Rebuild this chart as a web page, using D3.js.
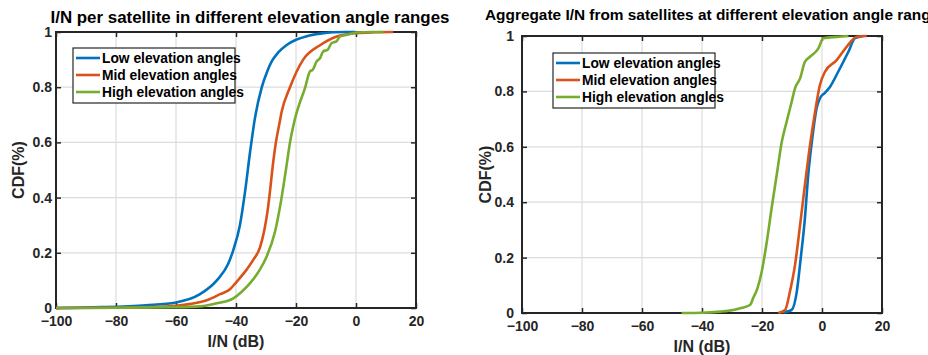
<!DOCTYPE html>
<html>
<head>
<meta charset="utf-8">
<script src="https://cdn.jsdelivr.net/npm/d3@7"></script>
<style>
  html, body { margin: 0; padding: 0; background: #fff; }
  svg { display: block; font-family: "Liberation Sans", Arial, sans-serif; font-weight: bold; }
</style>
</head>
<body>
<svg id="fig" width="928" height="355"></svg>
<script>
// ---- Shared axis settings ----
const xTicks = [-100, -80, -60, -40, -20, 0, 20];
const yTicks = [0, 0.2, 0.4, 0.6, 0.8, 1];
const seriesNames = ["Low elevation angles", "Mid elevation angles", "High elevation angles"];
const seriesColors = ["#0072BD", "#D95319", "#77AC30"];

// ---- Panel 1: I/N per satellite (CDF) ----
const perSatLowX  = [-100, -85, -70, -60, -52, -46.4, -42.6, -40.9, -38.7, -37, -35.3, -33.7, -31.4, -29.5, -28, -26, -23.1, -20, -16.4, -12, -7.6, -3, 0];
const perSatLowY  = [0, 0.003, 0.01, 0.02, 0.05, 0.10, 0.16, 0.21, 0.30, 0.42, 0.566, 0.687, 0.80, 0.86, 0.895, 0.925, 0.953, 0.972, 0.985, 0.994, 0.999, 1, 1];
const perSatMidX  = [-100, -80, -70, -60, -55, -50, -45.3, -42, -39.8, -36.4, -34.2, -32, -30.5, -29.5, -28.6, -27.8, -26.7, -25.5, -24.8, -22, -17.6, -12, -6.4, 0.2, 6, 12.4];
const perSatMidY  = [0, 0.001, 0.003, 0.008, 0.015, 0.027, 0.05, 0.068, 0.095, 0.14, 0.175, 0.22, 0.285, 0.35, 0.43, 0.51, 0.60, 0.67, 0.71, 0.80, 0.90, 0.952, 0.984, 0.996, 0.999, 1];
const perSatHighX = [-100, -80, -60, -52, -46, -40.9, -38, -35.3, -32, -29.8, -27, -24.8, -23.1, -22, -21, -20, -19, -17, -15.3, -14.5, -13.1, -12, -10.9, -9.5, -8.1, -6.5, -5.3, -3, 0.2, 5, 9.1];
const perSatHighY = [0, 0.001, 0.003, 0.006, 0.018, 0.035, 0.06, 0.09, 0.14, 0.186, 0.276, 0.40, 0.52, 0.60, 0.655, 0.70, 0.735, 0.797, 0.858, 0.862, 0.894, 0.905, 0.93, 0.935, 0.96, 0.966, 0.984, 0.99, 0.998, 1, 1];

// ---- Panel 2: aggregate I/N (CDF) ----
const aggLowX  = [-12.9, -12.3, -10.1, -8.4, -7.1, -5.7, -4.6, -3.1, -1.8, -0.7, 1, 2.7, 5.4, 8.8, 11, 13.8];
const aggLowY  = [0, 0.003, 0.011, 0.077, 0.197, 0.342, 0.498, 0.643, 0.739, 0.775, 0.795, 0.817, 0.871, 0.943, 0.992, 1];
const aggMidX  = [-14.6, -12.3, -10.7, -9, -7.3, -5.7, -4, -2.3, -0.7, 1, 4.9, 8.2, 11.6, 14.9];
const aggMidY  = [0, 0.011, 0.077, 0.173, 0.318, 0.462, 0.606, 0.727, 0.823, 0.871, 0.913, 0.961, 0.997, 1];
const aggHighX = [-46.8, -40, -34, -29.6, -27.3, -24, -22.9, -21.5, -20.1, -18.4, -16.8, -15.1, -13.4, -11.8, -10.1, -9, -7.3, -5.7, -4, -1.2, 0.4, 5, 8.8];
const aggHighY = [0, 0.001, 0.005, 0.011, 0.017, 0.029, 0.055, 0.09, 0.149, 0.257, 0.378, 0.498, 0.618, 0.69, 0.763, 0.811, 0.847, 0.907, 0.925, 0.955, 0.992, 0.997, 1];

const svg = d3.select("#fig");
const zip = (xs, ys) => xs.map((x, i) => [x, ys[i]]);
const yFmt = d => (d === 0 || d === 1) ? String(d) : d.toFixed(1);

function drawPanel(p) {
  const x = d3.scaleLinear().domain([-100, 20]).range([p.left, p.right]);
  const y = d3.scaleLinear().domain([0, 1]).range([p.bottom, p.top]);
  const g = svg.append("g");

  // grid
  g.append("g").selectAll("line.gx").data(xTicks.slice(1, -1)).join("line")
    .attr("x1", d => x(d)).attr("x2", d => x(d))
    .attr("y1", p.top).attr("y2", p.bottom)
    .attr("stroke", "#dcdcdc").attr("stroke-width", 1.2);
  g.append("g").selectAll("line.gy").data(yTicks.slice(1, -1)).join("line")
    .attr("y1", d => y(d)).attr("y2", d => y(d))
    .attr("x1", p.left).attr("x2", p.right)
    .attr("stroke", "#dcdcdc").attr("stroke-width", 1.2);

  // axes with inward ticks
  const axStyle = sel => {
    sel.select(".domain").remove();
    sel.selectAll(".tick line").attr("stroke", "#262626").attr("stroke-width", 1.5);
    sel.selectAll(".tick text").attr("fill", "#262626")
      .style("font-size", "14px").style("font-weight", "bold")
      .style("font-family", "'Liberation Sans', Arial, sans-serif");
  };
  g.append("g").attr("transform", `translate(0,${p.bottom})`)
    .call(d3.axisBottom(x).tickValues(xTicks).tickSize(-5).tickPadding(p.xPad)).call(axStyle);
  g.append("g").attr("transform", `translate(0,${p.top})`)
    .call(d3.axisTop(x).tickValues(xTicks).tickSize(-5).tickFormat("")).call(axStyle);
  g.append("g").attr("transform", `translate(${p.left},0)`)
    .call(d3.axisLeft(y).tickValues(yTicks).tickSize(-5).tickPadding(p.yPad).tickFormat(yFmt)).call(axStyle);
  g.append("g").attr("transform", `translate(${p.right},0)`)
    .call(d3.axisRight(y).tickValues(yTicks).tickSize(-5).tickFormat("")).call(axStyle);

  // box
  g.append("rect").attr("x", p.left).attr("y", p.top)
    .attr("width", p.right - p.left).attr("height", p.bottom - p.top)
    .attr("fill", "none").attr("stroke", "#262626").attr("stroke-width", 2);

  // curves
  const line = d3.line().x(d => x(d[0])).y(d => y(d[1])).curve(d3.curveMonotoneX);
  p.series.forEach((s, i) => {
    g.append("path").datum(s).attr("d", line)
      .attr("fill", "none").attr("stroke", seriesColors[i])
      .attr("stroke-width", 2.6).attr("stroke-linejoin", "round");
  });

  // labels
  g.append("text").attr("x", (p.left + p.right) / 2).attr("y", p.bottom + p.xLabelGap)
    .attr("text-anchor", "middle").attr("fill", "#262626").style("font-size", "16px")
    .text("I/N (dB)");
  g.append("text").attr("transform", `translate(${p.yLabelX},${(p.top + p.bottom) / 2}) rotate(-90)`)
    .attr("text-anchor", "middle").attr("fill", "#262626").style("font-size", "16px")
    .text("CDF(%)");
  g.append("text").attr("x", p.titleX).attr("y", p.titleY)
    .attr("text-anchor", p.titleAnchor).attr("fill", "#000").style("font-size", p.titleSize)
    .text(p.title);

  // legend
  const lg = g.append("g").attr("transform", `translate(${p.legX},${p.legY})`);
  lg.append("rect").attr("width", 162).attr("height", 55)
    .attr("fill", "#fff").attr("stroke", "#262626").attr("stroke-width", 1.2);
  seriesNames.forEach((name, i) => {
    const cy = 10 + i * 17;
    lg.append("line").attr("x1", 3).attr("x2", 27).attr("y1", cy).attr("y2", cy)
      .attr("stroke", seriesColors[i]).attr("stroke-width", 2.6);
    lg.append("text").attr("x", 29).attr("y", cy).attr("dy", "0.36em")
      .attr("fill", "#000").style("font-size", "13.8px").text(name);
  });
}

drawPanel({
  left: 56, right: 416, top: 32, bottom: 308,
  xPad: 8, yPad: 4, xLabelGap: 39, yLabelX: 24,
  title: "I/N per satellite in different elevation angle ranges",
  titleX: 250, titleY: 23, titleAnchor: "middle", titleSize: "16.9px",
  legX: 73, legY: 48,
  series: [zip(perSatLowX, perSatLowY), zip(perSatMidX, perSatMidY), zip(perSatHighX, perSatHighY)]
});

drawPanel({
  left: 522, right: 882, top: 36, bottom: 313,
  xPad: 8, yPad: 8, xLabelGap: 39, yLabelX: 491,
  title: "Aggregate I/N from satellites at different elevation angle ranges",
  titleX: 485, titleY: 20, titleAnchor: "start", titleSize: "15.4px",
  legX: 553, legY: 53,
  series: [zip(aggLowX, aggLowY), zip(aggMidX, aggMidY), zip(aggHighX, aggHighY)]
});
</script>
</body>
</html>
